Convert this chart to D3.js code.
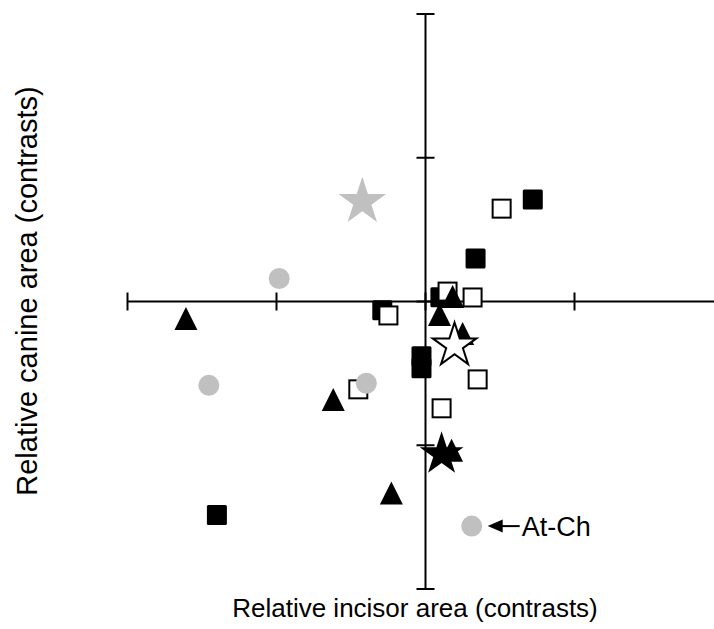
<!DOCTYPE html>
<html>
<head>
<meta charset="utf-8">
<script src="https://cdn.jsdelivr.net/npm/d3@7/dist/d3.min.js"></script>
<style>
  html, body { margin: 0; padding: 0; background: #fff; }
  svg { display: block; }
  text { font-family: "Liberation Sans", Arial, sans-serif; fill: #000; }
</style>
</head>
<body>
<svg id="chart" width="714" height="629"></svg>
<script>
// Contrast values: [incisor, canine]
const filledSquares = [[0.72, 0.71], [0.336, 0.30], [0.10, 0.03], [-0.29, -0.06], [-0.027, -0.38], [-0.027, -0.465], [-1.40, -1.486]];
const openSquares = [[0.511, 0.646], [0.148, 0.069], [0.316, 0.028], [-0.249, -0.097], [-0.451, -0.611], [0.35, -0.542], [0.108, -0.743]];
const triangles = [[-1.608, -0.118], [-0.619, -0.681], [-0.229, -1.333], [0.182, 0.035], [0.094, -0.09], [0.249, -0.222], [0.175, -1.035]];
const greyCircles = [[-0.982, 0.16], [-1.454, -0.583], [-0.397, -0.569], [0.31, -1.5625]];
const greyStars = [[-0.424, 0.694]];
const openStars = [[0.195, -0.306]];
const blackStars = [[0.108, -1.0625]];

const xTicks = [-2, -1, 0, 1];
const yTicks = [-2, -1, 0, 1, 2];
const xTitle = "Relative incisor area (contrasts)";
const yTitle = "Relative canine area (contrasts)";
const callout = { label: "At-Ch", point: greyCircles[3] };

const W = 714;
const svg = d3.select("#chart");
const x = d3.scaleLinear().domain([-2, 1]).range([127.5, 574.5]);
const y = d3.scaleLinear().domain([-2, 2]).range([589, 14]);
const xMax = x.invert(W);

const axisColor = "#000";
const tickHalf = 9;

// Axes crossing at the origin
const axes = svg.append("g");
axes.append("line")
  .attr("x1", x(-2)).attr("x2", x(xMax))
  .attr("y1", y(0)).attr("y2", y(0))
  .attr("stroke", axisColor).attr("stroke-width", 2);
axes.append("line")
  .attr("x1", x(0)).attr("x2", x(0))
  .attr("y1", y(-2)).attr("y2", y(2))
  .attr("stroke", axisColor).attr("stroke-width", 2);
axes.selectAll(".xt").data(xTicks).join("line")
  .attr("x1", d => x(d)).attr("x2", d => x(d))
  .attr("y1", y(0) - tickHalf).attr("y2", y(0) + tickHalf)
  .attr("stroke", axisColor).attr("stroke-width", 2);
axes.selectAll(".yt").data(yTicks).join("line")
  .attr("y1", d => y(d)).attr("y2", d => y(d))
  .attr("x1", x(0) - tickHalf).attr("x2", x(0) + tickHalf)
  .attr("stroke", axisColor).attr("stroke-width", 2);

const marks = svg.append("g");

// Squares
const sq = 20;
marks.selectAll(".fsq").data(filledSquares).join("rect")
  .attr("x", d => x(d[0]) - sq / 2).attr("y", d => y(d[1]) - sq / 2)
  .attr("width", sq).attr("height", sq).attr("rx", 1.5)
  .attr("fill", "#000");
marks.selectAll(".osq").data(openSquares).join("rect")
  .attr("x", d => x(d[0]) - (sq - 2) / 2).attr("y", d => y(d[1]) - (sq - 2) / 2)
  .attr("width", sq - 2).attr("height", sq - 2)
  .attr("fill", "#fff").attr("stroke", "#000").attr("stroke-width", 2);

// Triangles
const tw = 23, th = 23;
const triPath = `M0,${-th / 2}L${tw / 2},${th / 2}L${-tw / 2},${th / 2}Z`;
marks.selectAll(".tri").data(triangles).join("path")
  .attr("d", triPath)
  .attr("transform", d => `translate(${x(d[0])},${y(d[1])})`)
  .attr("fill", "#000");

// Grey circles
marks.selectAll(".circ").data(greyCircles).join("circle")
  .attr("cx", d => x(d[0])).attr("cy", d => y(d[1])).attr("r", 10.5)
  .attr("fill", "#c0c0c0");

// Stars
function starPath(R) {
  const r = R * 0.382;
  const pts = [];
  for (let i = 0; i < 10; i++) {
    const a = -Math.PI / 2 + i * Math.PI / 5;
    const rad = i % 2 === 0 ? R : r;
    pts.push([rad * Math.cos(a), rad * Math.sin(a)]);
  }
  return "M" + pts.map(p => p.join(",")).join("L") + "Z";
}
marks.selectAll(".gstar").data(greyStars).join("path")
  .attr("d", starPath(25))
  .attr("transform", d => `translate(${x(d[0])},${y(d[1])})`)
  .attr("fill", "#c0c0c0");
marks.selectAll(".ostar").data(openStars).join("path")
  .attr("d", starPath(23))
  .attr("transform", d => `translate(${x(d[0])},${y(d[1])})`)
  .attr("fill", "#fff").attr("stroke", "#000").attr("stroke-width", 2)
  .attr("stroke-linejoin", "miter");
marks.selectAll(".bstar").data(blackStars).join("path")
  .attr("d", starPath(23))
  .attr("transform", d => `translate(${x(d[0])},${y(d[1])})`)
  .attr("fill", "#000");

// Callout for the labelled point
const cx = x(callout.point[0]), cy = y(callout.point[1]);
const note = svg.append("g");
note.append("line")
  .attr("x1", cx + 26).attr("x2", cx + 48)
  .attr("y1", cy).attr("y2", cy)
  .attr("stroke", "#000").attr("stroke-width", 2);
note.append("path")
  .attr("d", `M${cx + 16},${cy}L${cx + 31},${cy - 6.5}L${cx + 31},${cy + 6.5}Z`)
  .attr("fill", "#000");
note.append("text")
  .attr("x", cx + 50).attr("y", cy + 10)
  .attr("font-size", 27)
  .text(callout.label);

// Axis titles
svg.append("text")
  .attr("x", 415).attr("y", 617)
  .attr("text-anchor", "middle")
  .attr("font-size", 26)
  .text(xTitle);
svg.append("text")
  .attr("transform", "translate(37,291) rotate(-90)")
  .attr("text-anchor", "middle")
  .attr("font-size", 29)
  .text(yTitle);
</script>
</body>
</html>
